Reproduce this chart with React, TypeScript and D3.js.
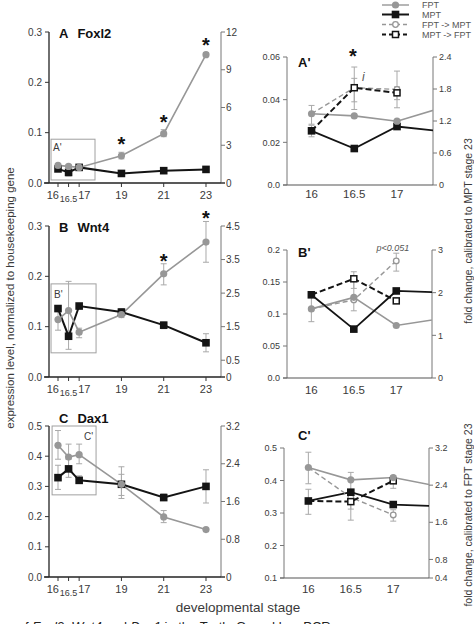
import React from "react";
import * as d3 from "d3";

// ---------- data ----------
const stages = [16, 16.5, 17, 19, 21, 23];
const stageLabels = ["16", "16.5", "17", "19", "21", "23"];

const foxl2FPT = [0.035, 0.033, 0.031, 0.054, 0.098, 0.255];
const foxl2MPT = [0.028, 0.021, 0.031, 0.019, 0.0245, 0.027];
const foxl2FPTErr = [[0.032, 0.038], [0.03, 0.036], [0.029, 0.033], [0.048, 0.061], [0.092, 0.106], [0.252, 0.259]];
const foxl2MPTErr = [[0.025, 0.031], [0.014, 0.028], [0.028, 0.033], [0.016, 0.021], [0.022, 0.027], [0.024, 0.03]];
const foxl2Stars = [19, 21, 23];

const wnt4FPT = [0.114, 0.132, 0.089, 0.124, 0.205, 0.268];
const wnt4MPT = [0.136, 0.081, 0.141, 0.129, 0.103, 0.068];
const wnt4FPTErr = [[0.093, 0.132], [0.055, 0.19], [0.078, 0.097], [0.118, 0.13], [0.183, 0.225], [0.228, 0.309]];
const wnt4MPTErr = [[0.13, 0.14], [0.075, 0.087], [0.136, 0.146], [0.121, 0.136], [0.096, 0.109], [0.05, 0.086]];
const wnt4Stars = [21, 23];

const dax1FPT = [0.436, 0.397, 0.405, 0.307, 0.199, 0.157];
const dax1MPT = [0.329, 0.358, 0.32, 0.307, 0.263, 0.3];
const dax1FPTErr = [[0.39, 0.485], [0.36, 0.44], [0.375, 0.44], [0.26, 0.365], [0.18, 0.22], [0.153, 0.161]];
const dax1MPTErr = [[0.29, 0.37], [0.33, 0.39], [0.31, 0.335], [0.27, 0.34], [0.255, 0.275], [0.245, 0.355]];
const dax1Stars: number[] = [];

// zoomed insets (16, 16.5, 17; solid lines continue toward stage 19)
const insetStages = [16, 16.5, 17, 19];
const insetLabels = ["16", "16.5", "17"];

const foxl2InsetFPT = [0.0334, 0.0324, 0.0299, 0.054];
const foxl2InsetMPT = [0.0254, 0.0171, 0.0274, 0.019];
const foxl2InsetFtoM = [0.0334, 0.0456, 0.0448];
const foxl2InsetMtoF = [0.0254, 0.0456, 0.0432];
const foxl2InsetFPTErr = [[0.0285, 0.0373], null, null];
const foxl2InsetMPTErr = [[0.0226, 0.028], null, null];
const foxl2InsetFtoMErr = [null, [0.0354, 0.0553], [0.0362, 0.0534]];
const foxl2InsetMtoFErr = [null, [0.039, 0.05], [0.04, 0.046]];

const wnt4InsetFPT = [0.108, 0.126, 0.082, 0.123];
const wnt4InsetMPT = [0.13, 0.0764, 0.136, 0.127];
const wnt4InsetFtoM = [0.108, 0.122, 0.183];
const wnt4InsetMtoF = [0.13, 0.155, 0.1205];
const wnt4InsetFPTErr = [[0.088, 0.13], null, null];
const wnt4InsetMPTErr = [null, null, null];
const wnt4InsetFtoMErr = [null, [0.105, 0.166], [0.167, 0.195]];
const wnt4InsetMtoFErr = [null, [0.14, 0.16], null];

const dax1InsetFPT = [0.44, 0.402, 0.409, 0.307];
const dax1InsetMPT = [0.337, 0.364, 0.326, 0.307];
const dax1InsetFtoM = [0.44, 0.348, 0.294];
const dax1InsetMtoF = [0.337, 0.335, 0.399];
const dax1InsetFPTErr = [[0.39, 0.487], null, [0.376, 0.414]];
const dax1InsetMPTErr = [[0.296, 0.373], null, null];
const dax1InsetFtoMErr = [null, [0.312, 0.425], [0.275, 0.31]];
const dax1InsetMtoFErr = [null, [0.278, 0.35], null];

const legendLabels = ["FPT", "MPT", "FPT -> MPT", "MPT -> FPT"];

// ---------- style ----------
const FONT = "'Liberation Sans', Arial, Helvetica, sans-serif";
const GRAY = "#979797";
const BLACK = "#141414";
const ERR = "#a9a9a9";
const TXT = "#3a3a3a";

type Err = number[] | null;

function ErrorBars({ xs, errs, x, y, cap = 3 }: any) {
  return (
    <g stroke={ERR} strokeWidth={1} fill="none">
      {errs.map((e: Err, i: number) => {
        if (!e) return null;
        const cx = x(xs[i]);
        const y1 = y(e[0]);
        const y2 = y(e[1]);
        return (
          <g key={i}>
            <line x1={cx} x2={cx} y1={y1} y2={y2} />
            <line x1={cx - cap} x2={cx + cap} y1={y1} y2={y1} />
            <line x1={cx - cap} x2={cx + cap} y1={y2} y2={y2} />
          </g>
        );
      })}
    </g>
  );
}

function Marker({ kind, cx, cy }: any) {
  if (kind === "F") return <circle cx={cx} cy={cy} r={3.6} fill={GRAY} />;
  if (kind === "M") return <rect x={cx - 3.8} y={cy - 3.8} width={7.6} height={7.6} fill={BLACK} />;
  if (kind === "FM") return <circle cx={cx} cy={cy} r={2.8} fill="#fff" stroke={GRAY} strokeWidth={1.3} />;
  return <rect x={cx - 3} y={cy - 3} width={6} height={6} fill="#fff" stroke={BLACK} strokeWidth={1.5} />;
}

// ---------- main panels ----------
function MainPanel({ cfg }: any) {
  const x = d3.scaleLinear().domain([15.574, 23.71]).range([49, 221]);
  const y = d3.scaleLinear().domain([0, cfg.ymax]).range([cfg.y0, cfg.yTop]);
  const yr = d3.scaleLinear().domain([0, cfg.rmax]).range([cfg.y0, cfg.yTop]);
  const line = d3
    .line<number>()
    .x((_d, i) => x(stages[i]))
    .y((d) => y(d));
  const fmt = d3.format(".1f");
  return (
    <g fontFamily={FONT}>
      {/* inset box */}
      <rect
        x={x(cfg.box[0])}
        y={y(cfg.box[3])}
        width={x(cfg.box[1]) - x(cfg.box[0])}
        height={y(cfg.box[2]) - y(cfg.box[3])}
        fill="none"
        stroke="#a0a0a0"
        strokeWidth={1}
      />
      <text x={cfg.boxLabel[0]} y={cfg.boxLabel[1]} fontSize={10} fill={TXT}>
        {cfg.boxText}
      </text>
      {/* axes */}
      <line x1={49} x2={49} y1={cfg.yTop} y2={cfg.y0} stroke="#222" strokeWidth={1.3} />
      <line x1={221} x2={221} y1={cfg.yTop} y2={cfg.y0} stroke="#777" strokeWidth={1} />
      <line x1={44} x2={225} y1={cfg.y0} y2={cfg.y0} stroke="#222" strokeWidth={1.3} />
      {y.ticks(cfg.lTickCount).map((t) => (
        <g key={"l" + t}>
          <line x1={45} x2={49} y1={y(t)} y2={y(t)} stroke="#333" />
          <text x={42} y={y(t) + 3.5} fontSize={10} textAnchor="end" fill={TXT}>
            {fmt(t)}
          </text>
        </g>
      ))}
      {cfg.rTicks.map((t: number, i: number) => (
        <g key={"r" + t}>
          <line x1={221} x2={225} y1={yr(t)} y2={yr(t)} stroke="#777" />
          <text x={226} y={yr(t) + 3.5} fontSize={10} fill={TXT}>
            {cfg.rLabels[i]}
          </text>
        </g>
      ))}
      {stages.map((s, i) => (
        <g key={"x" + s}>
          <line x1={x(s)} x2={x(s)} y1={cfg.y0} y2={cfg.y0 + 4} stroke="#333" />
          <text
            x={i === 0 ? x(s) + 1 : i === 2 ? x(s) - 1 : x(s)}
            y={cfg.y0 + (i === 1 ? 19 : 16)}
            fontSize={i === 1 ? 9 : 11}
            textAnchor={i === 0 ? "end" : i === 2 ? "start" : "middle"}
            fill={TXT}
          >
            {stageLabels[i]}
          </text>
        </g>
      ))}
      {/* series */}
      <ErrorBars xs={stages} errs={cfg.fErr} x={x} y={y} />
      <ErrorBars xs={stages} errs={cfg.mErr} x={x} y={y} />
      <path d={line(cfg.mpt) || ""} fill="none" stroke={BLACK} strokeWidth={2} />
      <path d={line(cfg.fpt) || ""} fill="none" stroke={GRAY} strokeWidth={1.6} />
      {cfg.mpt.map((v: number, i: number) => (
        <Marker key={"m" + i} kind="M" cx={x(stages[i])} cy={y(v)} />
      ))}
      {cfg.fpt.map((v: number, i: number) => (
        <Marker key={"f" + i} kind="F" cx={x(stages[i])} cy={y(v)} />
      ))}
      {cfg.stars.map((s: number) => {
        const i = stages.indexOf(s);
        const top = Math.max(cfg.fErr[i][1], cfg.mErr[i][1]);
        return (
          <text key={"s" + s} x={x(s)} y={y(top) - cfg.starGap + 11} fontSize={20} fontWeight="bold" textAnchor="middle" fill="#111">
            *
          </text>
        );
      })}
      {/* title */}
      <text x={59} y={cfg.titleY} fontSize={13} fontWeight="bold" fill="#111">
        {cfg.letter}
        <tspan dx={9}>{cfg.gene}</tspan>
      </text>
    </g>
  );
}

// ---------- inset panels ----------
function InsetPanel({ cfg, idx }: any) {
  const x = d3.scaleLinear().domain([15.713, 17.421]).range(cfg.xr);
  const y = d3.scaleLinear().domain(cfg.yd).range([cfg.y0, cfg.yTop]);
  const yr = d3.scaleLinear().domain(cfg.rd).range([cfg.y0, cfg.yTop]);
  const line = d3
    .line<number>()
    .x((_d, i) => x(insetStages[i]))
    .y((d) => y(d));
  const [xl, xrr] = cfg.xr;
  const clipId = "insetclip" + idx;
  return (
    <g fontFamily={FONT}>
      <defs>
        <clipPath id={clipId}>
          <rect x={xl} y={cfg.yTop - 30} width={xrr - xl} height={cfg.y0 - cfg.yTop + 30} />
        </clipPath>
      </defs>
      {/* axes */}
      <line x1={xl} x2={xl} y1={cfg.yTop} y2={cfg.y0} stroke="#777" />
      <line x1={xrr} x2={xrr} y1={cfg.yTop} y2={cfg.y0} stroke="#777" />
      <line x1={xl - 4} x2={xrr} y1={cfg.y0} y2={cfg.y0} stroke="#555" strokeWidth={1.2} />
      {cfg.lTicks.map((t: number, i: number) => (
        <g key={"l" + t}>
          <line x1={xl - 4} x2={xl} y1={y(t)} y2={y(t)} stroke="#777" />
          <text x={xl - 7} y={y(t) + 3.2} fontSize={9} textAnchor="end" fill={TXT}>
            {cfg.lLabels[i]}
          </text>
        </g>
      ))}
      {cfg.rTicks.map((t: number, i: number) => (
        <g key={"r" + t}>
          <line x1={xrr} x2={xrr + 4} y1={yr(t)} y2={yr(t)} stroke="#777" />
          <text x={xrr + 6} y={yr(t) + 3.2} fontSize={9} fill={TXT}>
            {cfg.rLabels[i]}
          </text>
        </g>
      ))}
      {insetLabels.map((l, i) => (
        <text key={l} x={x(insetStages[i])} y={cfg.y0 + cfg.xLabOff} fontSize={11.5} textAnchor="middle" fill={TXT}>
          {l}
        </text>
      ))}
      {/* series */}
      <ErrorBars xs={insetStages} errs={cfg.fErr} x={x} y={y} />
      <ErrorBars xs={insetStages} errs={cfg.mErr} x={x} y={y} />
      <ErrorBars xs={insetStages} errs={cfg.fmErr} x={x} y={y} />
      <ErrorBars xs={insetStages} errs={cfg.mfErr} x={x} y={y} />
      <g clipPath={`url(#${clipId})`}>
        <path d={line(cfg.fpt) || ""} fill="none" stroke={GRAY} strokeWidth={1.6} />
        <path d={line(cfg.mpt) || ""} fill="none" stroke={BLACK} strokeWidth={1.8} />
        <path d={line(cfg.fm) || ""} fill="none" stroke={GRAY} strokeWidth={1.4} strokeDasharray="5,3" />
        <path d={line(cfg.mf) || ""} fill="none" stroke={BLACK} strokeWidth={2} strokeDasharray="6,3" />
      </g>
      {cfg.fm.map((v: number, i: number) =>
        i > 0 ? <Marker key={"fm" + i} kind="FM" cx={x(insetStages[i])} cy={y(v)} /> : null
      )}
      {cfg.mf.map((v: number, i: number) =>
        i > 0 ? <Marker key={"mf" + i} kind="MF" cx={x(insetStages[i])} cy={y(v)} /> : null
      )}
      {cfg.mpt.slice(0, 3).map((v: number, i: number) => (
        <Marker key={"m" + i} kind="M" cx={x(insetStages[i])} cy={y(v)} />
      ))}
      {cfg.fpt.slice(0, 3).map((v: number, i: number) => (
        <Marker key={"f" + i} kind="F" cx={x(insetStages[i])} cy={y(v)} />
      ))}
      <text x={298} y={cfg.titleY} fontSize={13} fontWeight="bold" fill="#111">
        {cfg.letter}
      </text>
    </g>
  );
}

const mainPanels = [
  {
    letter: "A", gene: "Foxl2", y0: 183, yTop: 32, ymax: 0.3, lTickCount: 3, rmax: 12,
    rTicks: [0, 3, 6, 9, 12], rLabels: ["0", "3", "6", "9", "12"],
    fpt: foxl2FPT, mpt: foxl2MPT, fErr: foxl2FPTErr, mErr: foxl2MPTErr, stars: foxl2Stars, starGap: 12,
    box: [15.67, 17.75, 0.006, 0.087], boxLabel: [53, 151], boxText: "A'", titleY: 38,
  },
  {
    letter: "B", gene: "Wnt4", y0: 377, yTop: 226, ymax: 0.3, lTickCount: 3, rmax: 4.5,
    rTicks: [0, 0.5, 1.5, 2.5, 3.5, 4.5], rLabels: ["0", "0.5", "1.5", "2.5", "3.5", "4.5"],
    fpt: wnt4FPT, mpt: wnt4MPT, fErr: wnt4FPTErr, mErr: wnt4MPTErr, stars: wnt4Stars, starGap: 7,
    box: [15.67, 17.8, 0.048, 0.185], boxLabel: [54, 298], boxText: "B'", titleY: 232,
  },
  {
    letter: "C", gene: "Dax1", y0: 577, yTop: 426, ymax: 0.5, lTickCount: 5, rmax: 3.2,
    rTicks: [0, 0.8, 1.6, 2.4, 3.2], rLabels: ["0", "0.8", "1.6", "2.4", "3.2"],
    fpt: dax1FPT, mpt: dax1MPT, fErr: dax1FPTErr, mErr: dax1MPTErr, stars: dax1Stars, starGap: 10,
    box: [15.72, 17.8, 0.272, 0.5], boxLabel: [84, 440], boxText: "C'", titleY: 423,
  },
];

const insetPanels = [
  {
    letter: "A'", xr: [287, 433], y0: 185, yTop: 57, yd: [0, 0.06], rd: [0, 2.4], xLabOff: 13,
    lTicks: [0, 0.02, 0.04, 0.06], lLabels: ["0.0", "0.02", "0.04", "0.06"],
    rTicks: [0, 0.6, 1.2, 1.8, 2.4], rLabels: ["0", "0.6", "1.2", "1.8", "2.4"],
    fpt: foxl2InsetFPT, mpt: foxl2InsetMPT, fm: foxl2InsetFtoM, mf: foxl2InsetMtoF,
    fErr: foxl2InsetFPTErr, mErr: foxl2InsetMPTErr, fmErr: foxl2InsetFtoMErr, mfErr: foxl2InsetMtoFErr, titleY: 67,
  },
  {
    letter: "B'", xr: [287, 432], y0: 378, yTop: 250, yd: [0, 0.2], rd: [0, 3], xLabOff: 16,
    lTicks: [0, 0.05, 0.1, 0.15, 0.2], lLabels: ["0.0", "0.05", "0.1", "0.15", "0.2"],
    rTicks: [0, 1, 2, 3], rLabels: ["0", "1", "2", "3"],
    fpt: wnt4InsetFPT, mpt: wnt4InsetMPT, fm: wnt4InsetFtoM, mf: wnt4InsetMtoF,
    fErr: wnt4InsetFPTErr, mErr: wnt4InsetMPTErr, fmErr: wnt4InsetFtoMErr, mfErr: wnt4InsetMtoFErr, titleY: 257,
  },
  {
    letter: "C'", xr: [284, 429], y0: 578, yTop: 448, yd: [0.1, 0.5], rd: [0.4, 3.2], xLabOff: 15,
    lTicks: [0.1, 0.2, 0.3, 0.4, 0.5], lLabels: ["0.1", "0.2", "0.3", "0.4", "0.5"],
    rTicks: [0.4, 0.8, 1.6, 2.4, 3.2], rLabels: ["0.4", "0.8", "1.6", "2.4", "3.2"],
    fpt: dax1InsetFPT, mpt: dax1InsetMPT, fm: dax1InsetFtoM, mf: dax1InsetMtoF,
    fErr: dax1InsetFPTErr, mErr: dax1InsetMPTErr, fmErr: dax1InsetFtoMErr, mfErr: dax1InsetMtoFErr, titleY: 440,
  },
];

function Legend() {
  const rows = [5, 14.5, 24.5, 34.5];
  const kinds = ["F", "M", "FM", "MF"];
  return (
    <g fontFamily={FONT}>
      {legendLabels.map((l, i) => {
        const k = kinds[i];
        const solid = i < 2;
        return (
          <g key={l}>
            <line
              x1={382}
              x2={409}
              y1={rows[i]}
              y2={rows[i]}
              stroke={k === "F" || k === "FM" ? GRAY : BLACK}
              strokeWidth={k === "F" || k === "FM" ? 1.4 : 2}
              strokeDasharray={solid ? undefined : "4,3"}
            />
            <Marker kind={k} cx={395.5} cy={rows[i]} />
            <text x={422} y={rows[i] + 3.3} fontSize={9} fill="#555">
              {l}
            </text>
          </g>
        );
      })}
    </g>
  );
}

export default function App() {
  return (
    <svg
      width={474}
      height={624}
      viewBox="0 0 474 624"
      style={{ position: "absolute", left: 0, top: 0, background: "#fff" }}
    >
      <rect x={0} y={0} width={474} height={624} fill="#fff" />
      {mainPanels.map((p) => (
        <MainPanel key={p.letter} cfg={p} />
      ))}
      {insetPanels.map((p, i) => (
        <InsetPanel key={p.letter} cfg={p} idx={i} />
      ))}
      <Legend />
      {/* annotations in insets */}
      <text x={353} y={63} fontSize={20} fontWeight="bold" textAnchor="middle" fill="#111" fontFamily={FONT}>
        *
      </text>
      <text x={362} y={81} fontSize={12} fontStyle="italic" fill="#555" fontFamily={FONT}>
        i
      </text>
      <text x={393} y={251} fontSize={9} fontStyle="italic" textAnchor="middle" fill="#555" fontFamily={FONT}>
        p&lt;0.051
      </text>
      {/* axis titles */}
      <text
        transform="translate(14,298) rotate(-90)"
        fontSize={11.5}
        textAnchor="middle"
        fill={TXT}
        fontFamily={FONT}
      >
        expression level, normalized to housekeeping gene
      </text>
      <text
        transform="translate(472,231) rotate(-90)"
        fontSize={10.5}
        textAnchor="middle"
        fill={TXT}
        fontFamily={FONT}
      >
        fold change, calibrated to MPT stage 23
      </text>
      <text
        transform="translate(472,515) rotate(-90)"
        fontSize={10.5}
        textAnchor="middle"
        fill={TXT}
        fontFamily={FONT}
      >
        fold change, calibrated to FPT stage 23
      </text>
      <text x={238} y={612} fontSize={13.5} textAnchor="middle" fill={TXT} fontFamily={FONT}>
        developmental stage
      </text>
      <text x={25} y={631} fontSize={13} fill="#222" fontFamily={FONT}>
        f <tspan fontStyle="italic">Foxl2</tspan>, <tspan fontStyle="italic">Wnt4</tspan> and{" "}
        <tspan fontStyle="italic">Dax1</tspan> in the Turtle Gonad by qPCR
      </text>
    </svg>
  );
}
